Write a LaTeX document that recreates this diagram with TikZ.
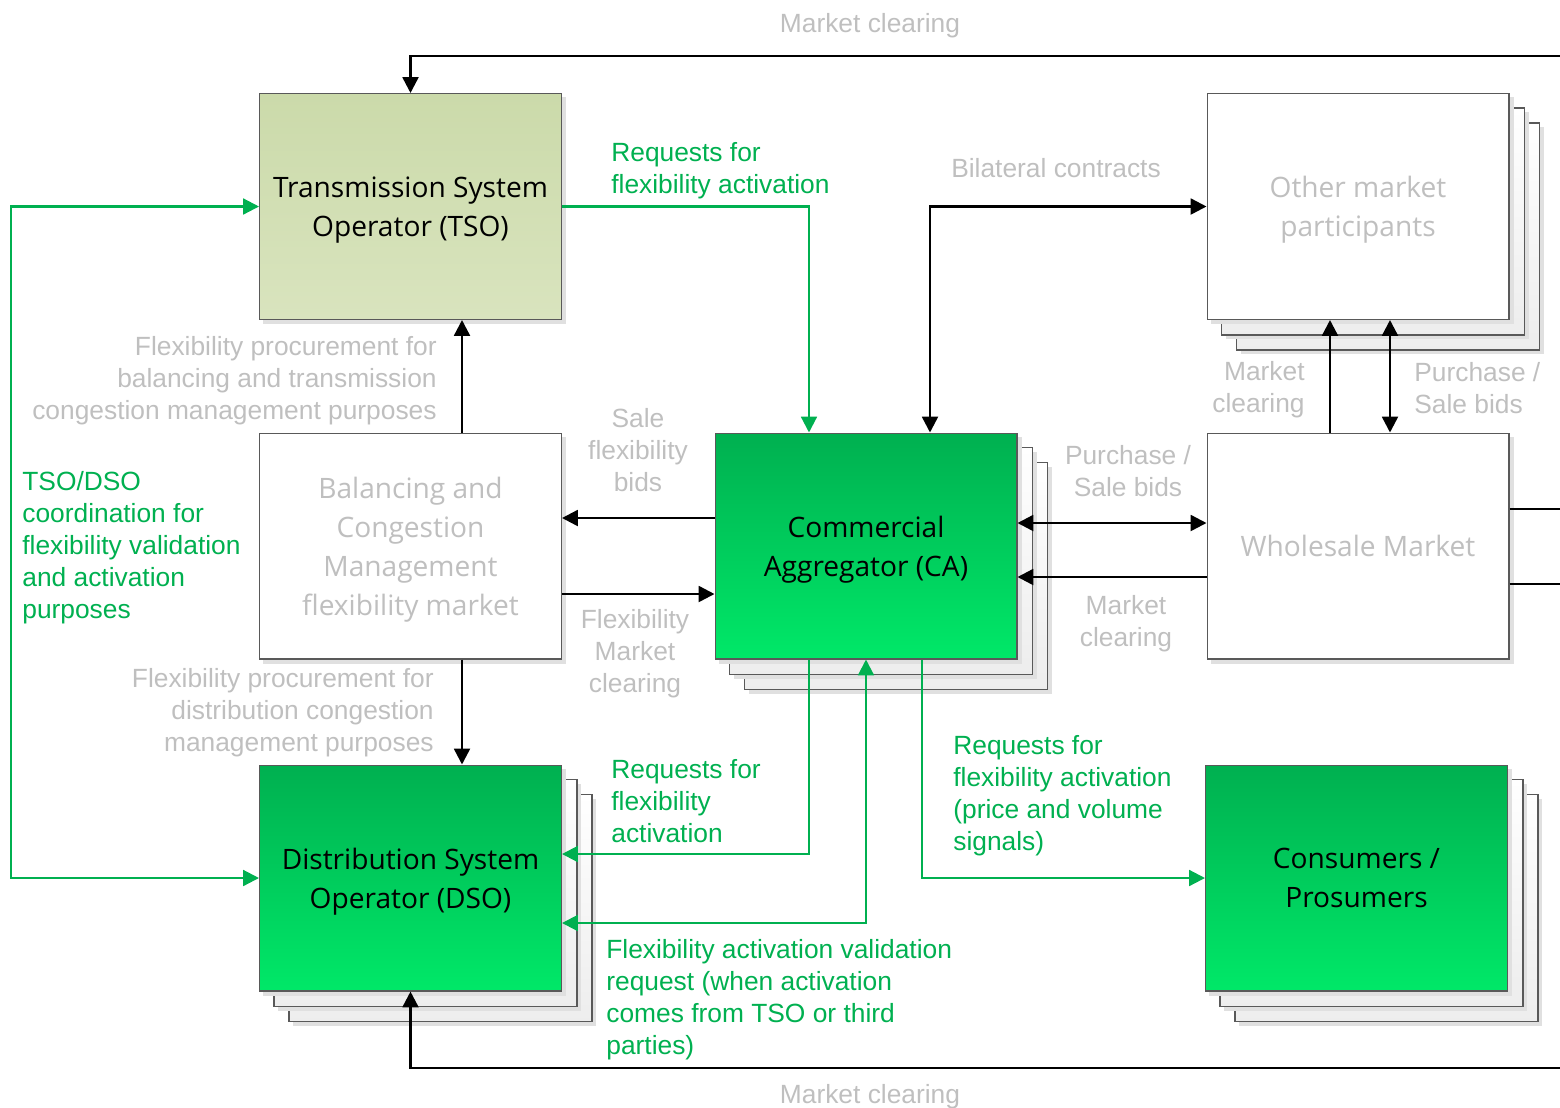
\documentclass[tikz,border=0pt]{standalone}
\usepackage{fontspec}
\setmainfont{Liberation Sans}
\newfontfamily\boxfont{Open Sans}
\usetikzlibrary{arrows.meta}
\definecolor{flexgreen}{RGB}{0,176,80}
\definecolor{lblgray}{RGB}{191,191,191}
\definecolor{greentop}{RGB}{0,176,80}
\definecolor{greenbot}{RGB}{0,232,104}
\definecolor{olivetop}{RGB}{203,218,170}
\definecolor{olivebot}{RGB}{217,228,190}
\pgfdeclarelayer{back}
\pgfsetlayers{back,main}
\tikzset{
  actor/.style={draw=black!65, line width=0.6pt, minimum width=6.04cm, minimum height=4.52cm,
    inner sep=0pt, align=center, font=\boxfont\fontsize{16}{22.2}\selectfont},
  greenbox/.style={actor, top color=greentop, bottom color=greenbot},
  olivebox/.style={actor, top color=olivetop, bottom color=olivebot},
  greybox/.style={actor, fill=white, text=lblgray},
  boxtext/.style={inner sep=0pt, yshift=-2pt, align=center, font=\boxfont\fontsize{16}{22.2}\selectfont},
  tip/.style={-{Triangle[length=9pt,width=9pt]}},
  both/.style={{Triangle[length=9pt,width=9pt]}-{Triangle[length=9pt,width=9pt]}},
  blk/.style={tip, line width=1.4pt, black},
  grn/.style={tip, line width=1.25pt, flexgreen},
  lbl/.style={inner sep=0pt, yshift=-1.7pt, text=lblgray, font=\fontsize{15}{18.2}\selectfont},
  glbl/.style={inner sep=0pt, yshift=-1.7pt, text=flexgreen, font=\fontsize{15}{18.2}\selectfont}
}
% shadow and stacked copies behind a box
\newcommand{\boxshadow}[2][0]{%
  \fill[black!12] ([shift={(#1+4,#1+4)}]#2.south west) rectangle ([shift={(#1+4,#1+4)}]#2.north east);}
\newcommand{\boxcopy}[2]{%
  \boxshadow[#1]{#2}
  \draw[black!65, line width=0.6pt, top color=white, bottom color=black!7]
    ([shift={(#1,#1)}]#2.south west) rectangle ([shift={(#1,#1)}]#2.north east);}
\begin{document}
\begin{tikzpicture}[x=0.02cm, y=-0.02cm]
\useasboundingbox (0,0) rectangle (1560,1107);
\clip (0,0) rectangle (1560,1107);

% boxes
\node[olivebox] (tso) at (410.5,206.5) {};
\node[greybox] (omp) at (1358,206.5) {};
\node[greybox] (bm) at (410.5,546) {};
\node[greenbox] (ca) at (866,546) {};
\node[greybox] (wm) at (1358,546) {Wholesale Market};
\node[greenbox] (dso) at (410.5,878) {};
\node[greenbox] (cons) at (1356.5,878) {};

\node[boxtext] (tsotext) at (tso) {Transmission System\\Operator (TSO)};
\node[boxtext, text=lblgray] (omptext) at (omp) {Other market\\participants};
\node[boxtext, text=lblgray] (bmtext) at (bm) {Balancing and\\Congestion\\Management\\flexibility market};
\node[boxtext] (catext) at (ca) {Commercial\\Aggregator (CA)};
\node[boxtext] (dsotext) at (dso) {Distribution System\\Operator (DSO)};
\node[boxtext, yshift=1.8pt] (constext) at (cons) {Consumers /\\Prosumers};

\begin{pgfonlayer}{back}
\boxshadow{tso}
\boxshadow{bm}
\boxshadow{wm}
\foreach \b in {omp,ca,dso,cons} {
  \boxcopy{30}{\b}
  \boxcopy{15}{\b}
  \boxshadow{\b}
}
\end{pgfonlayer}

% market connectors
\draw[blk] (wm.east |- 0,509) -- (1590,509) -- (1590,56) -| (tso.north);
\draw[blk] (wm.east |- 0,584) -- (1590,584) -- (1590,1068) -| (dso.south);
\draw[blk, both] (ca.north -| 930,0) |- (omp.west);
\draw[blk] (wm.north -| 1330,0) -- (omp.south -| 1330,0);
\draw[blk, both] (wm.north -| 1390,0) -- (omp.south -| 1390,0);
\draw[blk, both] (ca.east |- 0,523) -- (wm.west |- 0,523);
\draw[blk] (wm.west |- 0,577) -- (ca.east |- 0,577);
\draw[blk] (ca.west |- 0,518) -- (bm.east |- 0,518);
\draw[blk] (bm.east |- 0,594) -- (ca.west |- 0,594);
\draw[blk] (bm.north -| 462,0) -- (tso.south -| 462,0);
\draw[blk] (bm.south -| 462,0) -- (dso.north -| 462,0);

% flexibility connectors
\draw[grn] (tso.east) -| (ca.north -| 809,0);
\draw[grn] (ca.south -| 809,0) |- (dso.east |- 0,854);
\draw[grn, both] (dso.east |- 0,923) -| (ca.south -| 866,0);
\draw[grn] (ca.south -| 922,0) |- (cons.west);
\draw[grn, both] (tso.west) -- (tso.west -| 11,0) |- (dso.west);

% labels
\node[lbl] (mctop) at (870,23) {Market clearing};
\node[lbl] (mcbot) at (870,1094) {Market clearing};
\node[lbl] (bilat) at (1056,165) {Bilateral contracts};
\node[lbl, anchor=east, align=right] (proctso) at (437,378) {Flexibility procurement for\\balancing and transmission\\congestion management purposes};
\node[lbl, anchor=east, align=right] (procdso) at (434,710) {Flexibility procurement for\\distribution congestion\\management purposes};
\node[lbl, align=center] (salebids) at (638,447) {Sale\\flexibility\\bids};
\node[lbl, align=center] (flexmc) at (635,651) {Flexibility\\Market\\clearing};
\node[lbl, align=center] (pswm) at (1128,468) {Purchase /\\Sale bids};
\node[lbl, align=center] (mcwm) at (1126,621) {Market\\clearing};
\node[lbl, anchor=east, align=right] (mcomp) at (1305,387) {Market\\clearing};
\node[lbl, anchor=west, align=left] (psomp) at (1414,385) {Purchase /\\Sale bids};
\node[glbl, anchor=west, align=left] (reqtso) at (611,168) {Requests for\\flexibility activation};
\node[glbl, anchor=west, align=left] (reqdso) at (611,798) {Requests for\\flexibility\\activation};
\node[glbl, anchor=west, align=left] (valid) at (606,997) {Flexibility activation validation\\request (when activation\\comes from TSO or third\\parties)};
\node[glbl, anchor=west, align=left] (reqcons) at (953,793) {Requests for\\flexibility activation\\(price and volume\\signals)};
\node[glbl, anchor=west, align=left] (coord) at (22,545) {TSO/DSO\\coordination for\\flexibility validation\\and activation\\purposes};
\end{tikzpicture}
\end{document}
